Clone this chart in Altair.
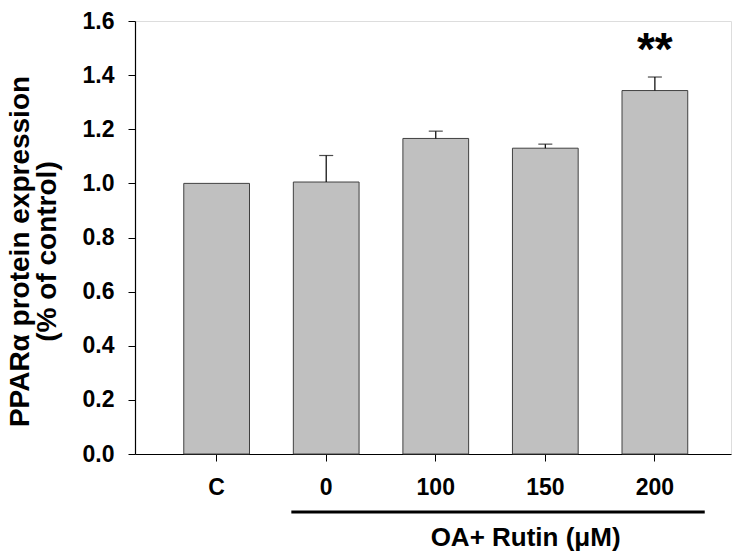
import altair as alt
import pandas as pd

categories = ["C", "0", "100", "150", "200"]
means = [1.0, 1.005, 1.166, 1.13, 1.343]
errors = [0.0, 0.098, 0.027, 0.015, 0.05]
signif = ["", "", "", "", "**"]
y_ticks = [0.0, 0.2, 0.4, 0.6, 0.8, 1.0, 1.2, 1.4, 1.6]
y_title = ["PPARα protein expression", "(% of control)" + "\u00a0" * 5]
group_label = "OA+ Rutin (μM)"

df = pd.DataFrame({"cat": categories, "mean": means, "err": errors, "sig": signif})
df["top"] = df["mean"] + df["err"]

FONT = "Liberation Sans"

xscale = alt.Scale(domain=categories, paddingInner=0.4, paddingOuter=0.42, align=0.53)
yscale = alt.Scale(domain=[0, 1.6], nice=False, zero=True)

x = alt.X("cat:N", scale=xscale, sort=categories,
          axis=alt.Axis(title=None, labelAngle=0, labelFont=FONT, labelFontSize=23,
                        labelFontWeight="bold", labelColor="black", labelPadding=15,
                        tickSize=7, tickColor="black", domainColor="black", domainWidth=1.2,
                        grid=False))
y = alt.Y("mean:Q", scale=yscale,
          axis=alt.Axis(values=y_ticks, format=".1f", labelFont=FONT, labelFontSize=23,
                        labelFontWeight="bold", labelColor="black", labelPadding=14,
                        tickSize=7, tickColor="black", domainColor="black", domainWidth=1.2,
                        grid=False,
                        title=y_title,
                        titleFont=FONT, titleFontSize=28, titleFontWeight="bold",
                        titleColor="black", titleLineHeight=27,
                        titleX=-115, titleY=230, titleAlign="center", titleBaseline="middle",
                        titleAngle=-90))

bars = alt.Chart(df).mark_bar(fill="#c0c0c0", stroke="#404040", strokeWidth=1).encode(x=x, y=y)

errdf = df[df["err"] > 0]
err_rule = alt.Chart(errdf).mark_rule(color="black", strokeWidth=1.2).encode(
    x=alt.X("cat:N", scale=xscale, sort=categories),
    y=alt.Y("mean:Q", scale=yscale),
    y2="top:Q")
err_cap = alt.Chart(errdf).mark_tick(color="black", thickness=1.2, size=14, orient="horizontal").encode(
    x=alt.X("cat:N", scale=xscale, sort=categories),
    y=alt.Y("top:Q", scale=yscale))

stars = alt.Chart(df[df["sig"] != ""]).mark_text(
    font=FONT, fontSize=46, fontWeight="bold", color="black", baseline="alphabetic", dy=-12
).encode(
    x=alt.X("cat:N", scale=xscale, sort=categories),
    y=alt.Y("top:Q", scale=yscale),
    text="sig:N")

group_df = pd.DataFrame({"start": ["0"], "end": ["200"], "mid": ["150"], "label": [group_label]})
group_line = alt.Chart(group_df).mark_rule(color="black", strokeWidth=3, xOffset=-2, x2Offset=17).encode(
    x=alt.X("start:N", scale=xscale, bandPosition=0),
    x2=alt.X2("end:N", bandPosition=1),
    y=alt.value(491))
group_text = alt.Chart(group_df).mark_text(
    font=FONT, fontSize=26, fontWeight="bold", color="black", baseline="middle"
).encode(
    x=alt.X("mid:N", scale=xscale, bandPosition=0.2),
    y=alt.value(517),
    text="label:N")

chart = alt.layer(bars, err_rule, err_cap, stars, group_line, group_text).properties(
    width=596, height=433,
    autosize=alt.AutoSizeParams(type="none"),
    padding={"left": 135, "top": 21, "right": 1, "bottom": 99},
).configure_view(stroke=None).configure(background="white")

chart.save("out.html", embed_options={"renderer": "svg", "actions": False})
